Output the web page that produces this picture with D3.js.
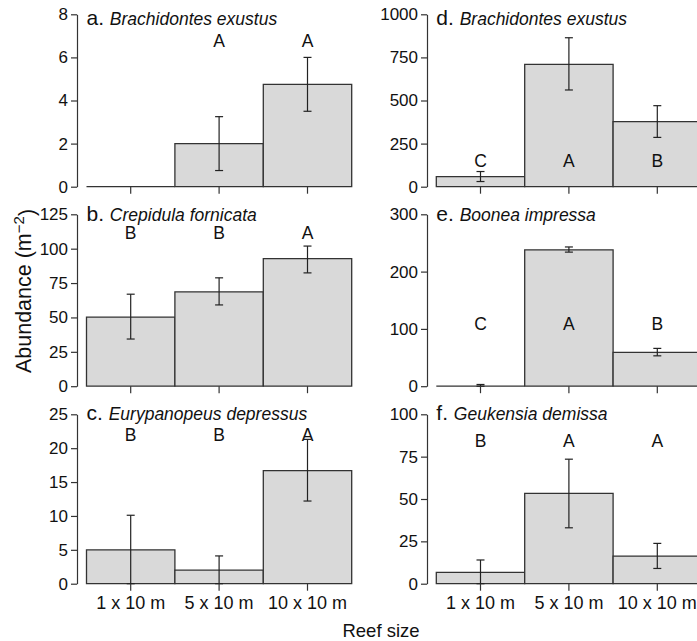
<!DOCTYPE html>
<html>

<head>
  <meta charset="utf-8" />
  <title>Abundance by reef size</title>
  <style>
    body {
      margin: 0;
      background: #fff;
    }

    svg {
      font-family: "Liberation Sans", Arial, Helvetica, sans-serif;
    }

    .bar {
      fill: #d9d9d9;
      stroke: #333;
      stroke-width: 1.3px;
    }

    .err {
      stroke: #222;
      stroke-width: 1.2px;
      fill: none;
    }

    .axis path,
    .axis line {
      stroke: #333;
      stroke-width: 1.2px;
      fill: none;
    }

    .axis text {
      font-family: "Liberation Sans", Arial, sans-serif;
      font-size: 17px;
      fill: #111;
    }

    .xlab text {
      font-size: 18px;
    }
  </style>
  <script src="https://cdnjs.cloudflare.com/ajax/libs/d3/7.8.5/d3.min.js"></script>
</head>

<body>
  <div id="chartArea"></div>
  <script>
    // reef sizes (x categories)
    var sizes = ['1 x 10 m', '5 x 10 m', '10 x 10 m'];

    // panels a-c left column, d-f right column
    var panelLetters = ['a.', 'b.', 'c.', 'd.', 'e.', 'f.'];
    var speciesNames = ['Brachidontes exustus', 'Crepidula fornicata', 'Eurypanopeus depressus',
      'Brachidontes exustus', 'Boonea impressa', 'Geukensia demissa'];
    var yMaxes = [8, 125, 25, 1000, 300, 100];
    var yTicks = [
      [0, 2, 4, 6, 8],
      [0, 25, 50, 75, 100, 125],
      [0, 5, 10, 15, 20, 25],
      [0, 250, 500, 750, 1000],
      [0, 100, 200, 300],
      [0, 25, 50, 75, 100]
    ];

    // mean abundance and error bar ends (m^-2)
    var means = [
      [0, 2.0, 4.75],
      [50.3, 68.6, 92.7],
      [5.0, 2.0, 16.7],
      [58, 710, 377],
      [0, 238, 59],
      [6.7, 53.3, 16.3]
    ];
    var lows = [
      [null, 0.75, 3.5],
      [34.3, 59.1, 82.4],
      [0, 0, 12.2],
      [30, 561, 286],
      [0, 234, 53],
      [0, 33, 9]
    ];
    var highs = [
      [null, 3.25, 6.0],
      [66.9, 78.8, 101.9],
      [10.1, 4.1, 21.3],
      [88, 864, 470],
      [3, 243, 66],
      [14, 73.5, 23.8]
    ];

    // significance groups and the height (data units) of their baseline
    var groups = [
      ['', 'A', 'A'],
      ['B', 'B', 'A'],
      ['B', 'B', 'A'],
      ['C', 'A', 'B'],
      ['C', 'A', 'B'],
      ['B', 'A', 'A']
    ];
    var groupY = [6.5, 107, 21.1, 116, 97.5, 80.7];

    var W = 697, H = 641;
    var colAxisX = [77, 427];
    var colBarX = [86.5, 436.3];
    var bw = 88.4;
    var rowTop = [14.3, 214.3, 414.3];
    var rowBottom = [186.7, 386.2, 583.7];
    var titleBase = [25, 220.5, 420];

    var svg = d3.select('#chartArea').append('svg')
      .attr('width', W)
      .attr('height', H);

    panelLetters.forEach(function (letter, p) {
      var col = Math.floor(p / 3), row = p % 3;
      var g = svg.append('g');

      var x = d3.scaleBand()
        .domain(sizes)
        .range([colBarX[col], colBarX[col] + 3 * bw])
        .padding(0);
      var y = d3.scaleLinear()
        .domain([0, yMaxes[p]])
        .range([rowBottom[row], rowTop[row]]);

      var rows = sizes.map(function (s, i) {
        return { size: s, mean: means[p][i], lo: lows[p][i], hi: highs[p][i], grp: groups[p][i] };
      });

      // bars (paths so that zero-height bars still show as a line)
      g.selectAll('.bar')
        .data(rows)
        .enter()
        .append('path')
        .attr('class', 'bar')
        .attr('d', function (d) {
          var x0 = x(d.size), x1 = x0 + x.bandwidth();
          return 'M' + x0 + ',' + y(0) + 'V' + y(d.mean) + 'H' + x1 + 'V' + y(0) + 'Z';
        });

      // error bars
      var cx = d => x(d.size) + x.bandwidth() / 2;
      var eb = g.selectAll('.err')
        .data(rows.filter(function (d) { return d.lo !== null; }))
        .enter()
        .append('g')
        .attr('class', 'err');
      eb.append('line')
        .attr('x1', cx).attr('x2', cx)
        .attr('y1', d => y(d.lo))
        .attr('y2', d => y(d.hi));
      eb.append('line')
        .attr('x1', d => cx(d) - 4).attr('x2', d => cx(d) + 4)
        .attr('y1', d => y(d.hi))
        .attr('y2', d => y(d.hi));
      eb.append('line')
        .attr('x1', d => cx(d) - 4).attr('x2', d => cx(d) + 4)
        .attr('y1', d => y(d.lo))
        .attr('y2', d => y(d.lo));

      // y axis
      var yAxis = d3.axisLeft(y)
        .tickValues(yTicks[p])
        .tickFormat(d3.format('d'))
        .tickSizeInner(6)
        .tickSizeOuter(0)
        .tickPadding(3);
      g.append('g')
        .attr('class', 'axis')
        .attr('transform', 'translate(' + colAxisX[col] + ',0)')
        .call(yAxis);

      // x axis: ticks only, labels on the bottom row
      var xAxis = d3.axisBottom(x)
        .tickSizeInner(7)
        .tickSizeOuter(0)
        .tickPadding(6);
      if (row < 2) xAxis.tickFormat('');
      var xg = g.append('g')
        .attr('class', 'axis xlab')
        .attr('transform', 'translate(0,' + rowBottom[row] + ')')
        .call(xAxis);
      xg.select('.domain').remove();

      // group letters
      g.selectAll('.grp')
        .data(rows)
        .enter()
        .append('text')
        .attr('class', 'grp')
        .attr('x', cx)
        .attr('y', y(groupY[p]))
        .attr('text-anchor', 'middle')
        .style('font-size', '17.5px')
        .style('fill', '#111')
        .text(d => d.grp);

      // panel title
      var t = g.append('text')
        .attr('x', colBarX[col])
        .attr('y', titleBase[row])
        .style('fill', '#111');
      t.append('tspan')
        .style('font-size', '21px')
        .text(letter + ' ');
      t.append('tspan')
        .style('font-size', '17.5px')
        .style('font-style', 'italic')
        .text(speciesNames[p]);
    });

    // shared axis titles
    var yl = svg.append('text')
      .attr('transform', 'translate(31,291) rotate(-90)')
      .attr('text-anchor', 'middle')
      .style('font-size', '21.5px')
      .style('fill', '#111');
    yl.append('tspan').text('Abundance (m');
    yl.append('tspan').attr('dy', '-0.45em').style('font-size', '15px').text('\u22122');
    yl.append('tspan').attr('dy', '0.45em').text(')');

    svg.append('text')
      .attr('x', 381)
      .attr('y', 637)
      .attr('text-anchor', 'middle')
      .style('font-size', '18.5px')
      .style('fill', '#111')
      .text('Reef size');
  </script>
</body>

</html>
